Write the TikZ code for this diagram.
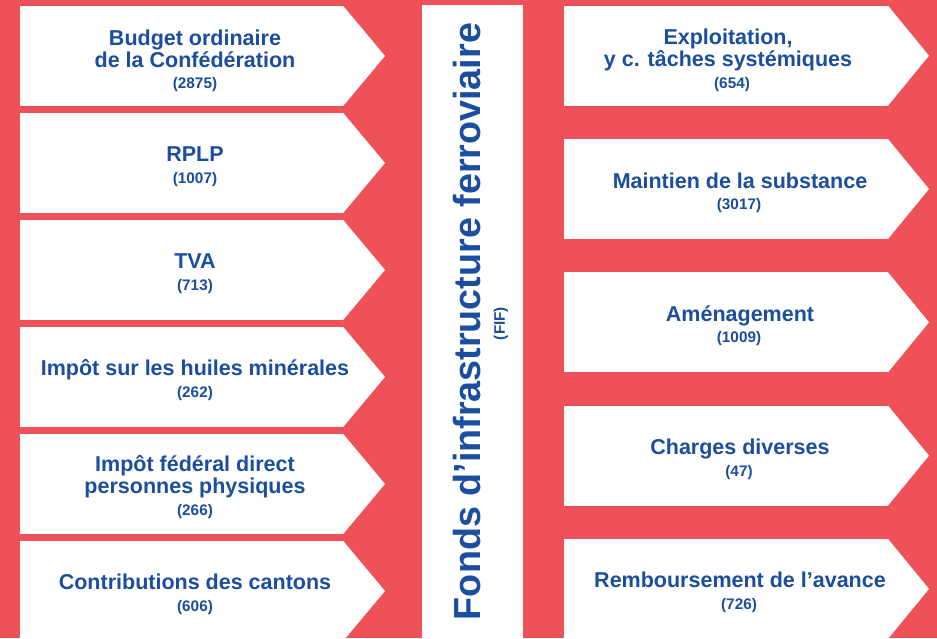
\documentclass[tikz,border=0pt]{standalone}
\usepackage{fontspec}
\setmainfont{Liberation Sans}
\usetikzlibrary{positioning, calc}

\begin{document}
\begin{tikzpicture}[
    x=1pt, y=-1pt,
    every node/.style={inner sep=0pt, outer sep=0pt},
    inbox/.style={fill=white, minimum width=323pt, minimum height=100.5pt},
    outbox/.style={fill=white, minimum width=324pt, minimum height=100pt},
    lbl/.style={text=fifblue, font=\bfseries\fontsize{21.5}{22}\selectfont, align=center},
    amount/.style={text=fifblue, font=\bfseries\fontsize{15.3}{17}\selectfont}
]

% Colors
\definecolor{fifred}{RGB}{239, 81, 88} % background
\definecolor{fifblue}{RGB}{27, 78, 158} % text

\useasboundingbox (0,0) rectangle (937,638);
\clip (0,0) rectangle (937,638);
\fill[fifred] (0,0) rectangle (937,638);

% Nodes
\node (in1) [inbox, anchor=north west] at (20,5.7) {};
\node (in2) [inbox, below=6.5pt of in1] {};
\node (in3) [inbox, below=6.5pt of in2] {};
\node (in4) [inbox, below=6.5pt of in3] {};
\node (in5) [inbox, below=6.5pt of in4] {};
\node (in6) [inbox, below=6.5pt of in5] {};

\node (fif) [fill=white, minimum width=101.6pt, minimum height=640pt, anchor=north west] at (421.7,5) {};

\node (out1) [outbox, anchor=north west] at (564,5.7) {};
\node (out2) [outbox, below=33.3pt of out1] {};
\node (out3) [outbox, below=33.3pt of out2] {};
\node (out4) [outbox, below=33.3pt of out3] {};
\node (out5) [outbox, below=33.3pt of out4] {};

% Tips
\foreach \b in {in1,in2,in3,in4,in5,in6}
    \fill[white] (\b.north east) -- ($(\b.east)+(42,0)$) -- (\b.south east) -- cycle;
\foreach \b in {out1,out2,out3,out4,out5}
    \fill[white] (\b.north east) -- ($(\b.east)+(41,0)$) -- (\b.south east) -- cycle;

% Labels
\node (in1-t) [lbl, anchor=base] at ($(in1.center)+(13.5,12)$) {Budget ordinaire\\de la Confédération};
\node (in1-v) [amount, anchor=base] at ($(in1.center)+(13.5,32.5)$) {(2875)};
\node (in5-t) [lbl, anchor=base] at ($(in5.center)+(13.5,10)$) {Impôt fédéral direct\\personnes physiques};
\node (in5-v) [amount, anchor=base] at ($(in5.center)+(13.5,32)$) {(266)};
\foreach \b/\t/\v in {in2/RPLP/1007, in3/TVA/713, in4/Impôt sur les huiles minérales/262, in6/Contributions des cantons/606} {
    \node (\b-t) [lbl, anchor=base] at ($(\b.center)+(13.5,-1)$) {\t};
    \node (\b-v) [amount, anchor=base] at ($(\b.center)+(13.5,20.5)$) {(\v)};
}

\node (out1-t) [lbl, anchor=base] at ($(out1.center)+(2,11)$) {Exploitation,\\y c. tâches systémiques};
\node (out1-v) [amount, anchor=base] at ($(out1.center)+(6,32.5)$) {(654)};
\foreach \b/\t/\v in {out2/Maintien de la substance/3017, out3/Aménagement/1009, out4/Charges diverses/47, out5/Remboursement de l’avance/726} {
    \node (\b-t) [lbl, anchor=base] at ($(\b.center)+(14,-1)$) {\t};
    \node (\b-v) [amount, anchor=base] at ($(\b.center)+(13,20.5)$) {(\v)};
}

\node (fif-t) [rotate=90, text=fifblue, font=\bfseries\fontsize{37.7}{40}\selectfont] at (467.5,321.5) {Fonds d’infrastructure ferroviaire};
\node (fif-v) [amount, rotate=90] at (501,323.5) {(FIF)};

\end{tikzpicture}
\end{document}
